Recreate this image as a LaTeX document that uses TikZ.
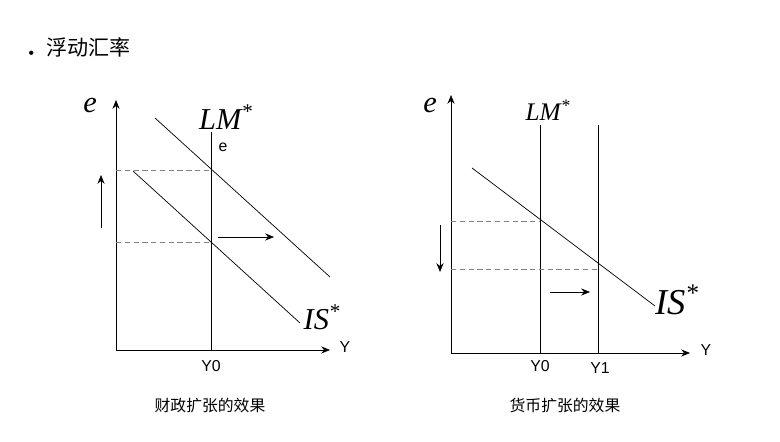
\documentclass[tikz,border=0pt]{standalone}
\usepackage{fontspec}
\setmainfont{Liberation Serif}
\setsansfont{Liberation Sans}
\newfontfamily\cjk{Noto Sans CJK SC}
\usetikzlibrary{arrows.meta}
\tikzset{
	axis/.style={thin, -{Stealth[length=5pt,width=4pt]}},
	curve/.style={thin},
	guide/.style={thin, densely dashed, gray},
	move/.style={thin, -{Stealth[length=5pt,width=4pt]}},
	lab/.style={font=\sffamily\small},
	big/.style={font=\itshape\LARGE}
}
\begin{document}
\begin{tikzpicture}[x=0.02cm, y=-0.02cm]
	\useasboundingbox (0,0) rectangle (780,442);
	\node[anchor=west] (title) at (22,47) {\sffamily\large{\tiny$\bullet$}\ \ \cjk 浮动汇率};
	% fiscal expansion
	\coordinate (o1) at (116,350);
	\coordinate (yt1) at (116,100);
	\coordinate (xt1) at (330,350);
	\draw[axis] (o1) -- (yt1);
	\draw[axis] (o1) -- (xt1);
	\node[big] (e1) at (90,105) {e};
	\node[lab] (y1) at (345,347) {Y};
	\coordinate (lmt) at (211,132);
	\coordinate (lmb) at (211,350);
	\draw[curve] (lmt) -- (lmb);
	\node[big] (lm1) at (226,117) {LM\textsuperscript{*}};
	\node[lab] (le) at (223,147) {e};
	\node[lab] (y01) at (211,366) {Y0};
	\coordinate (isa) at (155,118);
	\coordinate (isb) at (330,277);
	\coordinate (isc) at (133,171);
	\coordinate (isd) at (300,323);
	\draw[curve] (isa) -- (isb);
	\draw[curve] (isc) -- (isd);
	\node[big] (is1) at (322,317) {IS\textsuperscript{*}};
	\coordinate (h1) at (211,170);
	\coordinate (h2) at (211,242);
	\draw[guide] (116,170) -- (h1);
	\draw[guide] (116,242) -- (h2);
	\draw[move] (101,228) -- (101,175);
	\draw[move] (218,237) -- (274,237);
	\node (cap1) at (210,405) {\cjk\small 财政扩张的效果};
	% monetary expansion
	\coordinate (o2) at (451,353);
	\coordinate (yt2) at (451,95);
	\coordinate (xt2) at (690,353);
	\draw[axis] (o2) -- (yt2);
	\draw[axis] (o2) -- (xt2);
	\node[big] (e2) at (430,105) {e};
	\node[lab] (y2) at (706,350) {Y};
	\draw[curve] (540,125) -- (540,353);
	\draw[curve] (598,125) -- (598,353);
	\node[font=\itshape\Large] (lm2) at (548,110) {LM\textsuperscript{*}};
	\node[lab] (y02) at (540,366) {Y0};
	\node[lab] (y12) at (600,368) {Y1};
	\coordinate (isp) at (472,168);
	\coordinate (isq) at (655,306);
	\draw[curve] (isp) -- (isq);
	\node[font=\itshape\huge] (is2) at (677,300) {IS\textsuperscript{*}};
	\draw[guide] (451,221) -- (540,221);
	\draw[guide] (451,269) -- (598,269);
	\draw[move] (440,225) -- (440,272);
	\draw[move] (550,292) -- (590,292);
	\node (cap2) at (565,405) {\cjk\small 货币扩张的效果};
\end{tikzpicture}
\end{document}
